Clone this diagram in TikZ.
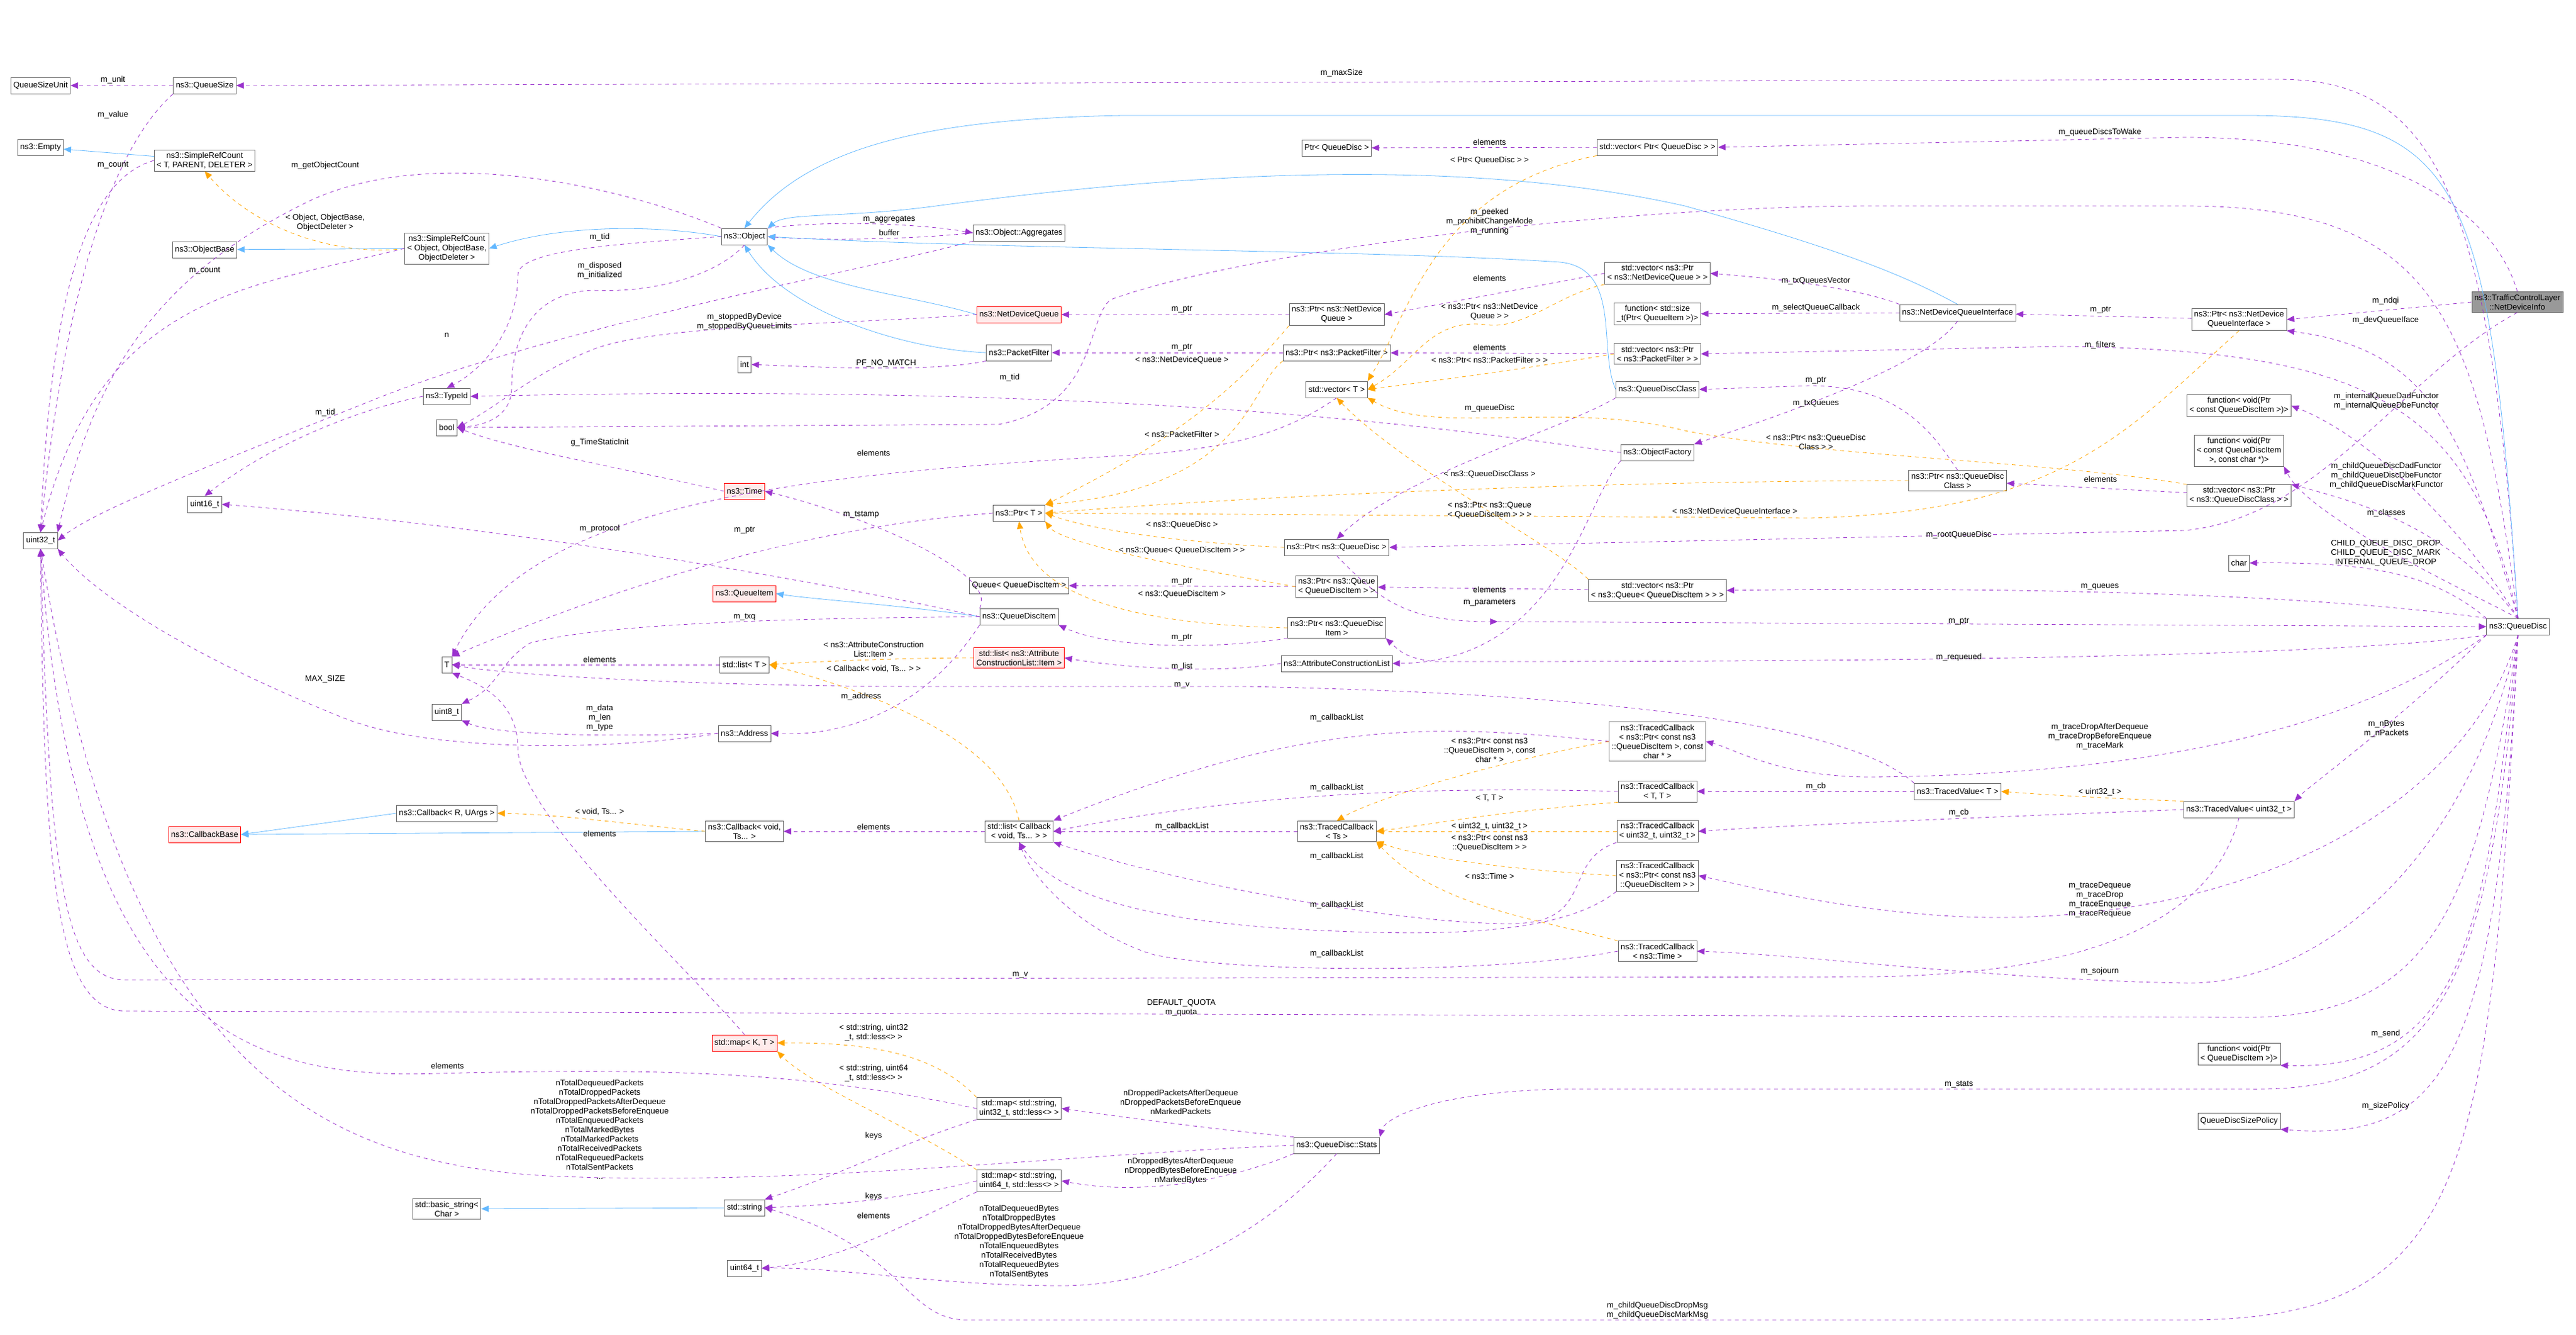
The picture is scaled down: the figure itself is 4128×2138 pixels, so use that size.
\documentclass[tikz,border=0pt]{standalone}
\usepackage{fontspec}
\setmainfont{Liberation Sans}
\usetikzlibrary{arrows.meta}
\definecolor{mpurple}{HTML}{9A32CD}
\definecolor{morange}{HTML}{FFA500}
\definecolor{mblue}{HTML}{63B8FF}
\begin{document}
\begin{tikzpicture}[x=0.5pt,y=-0.5pt,
  every node/.style={font=\fontsize{6.5}{7.5}\selectfont},
  box/.style={draw=black!60,fill=white,align=center,inner sep=2pt,minimum height=13pt},
  redbox/.style={box,draw=red,fill=red!8},
  lab/.style={align=center,inner sep=0pt},
  mem/.style={draw=mpurple,dashed,-{Triangle[length=6pt,width=5pt]}},
  tmpl/.style={draw=morange,dashed,-{Triangle[length=6pt,width=5pt]}},
  inh/.style={draw=mblue,-{Triangle[length=6pt,width=5pt]}}]
\useasboundingbox (0,0) rectangle (4128,2138);
% ---------- nodes ----------
\node[box] (qsu) at (65,137) {QueueSizeUnit};
\node[box] (qs) at (328,137) {ns3::QueueSize};
\node[box] (empty) at (65,236) {ns3::Empty};
\node[box] (srct) at (328,257) {ns3::SimpleRefCount\\< T, PARENT, DELETER >};
\node[box] (obase) at (328,400) {ns3::ObjectBase};
\node[box] (srco) at (716,398) {ns3::SimpleRefCount\\< Object, ObjectBase,\\ObjectDeleter >};
\node[box] (obj) at (1193,379) {ns3::Object};
\node[box] (agg) at (1633,373) {ns3::Object::Aggregates};
\node[box] (typeid) at (716,635) {ns3::TypeId};
\node[box] (boolN) at (716,685) {bool};
\node[box] (intN) at (1193,584) {int};
\node[redbox] (timeN) at (1193,787) {ns3::Time};
\node[box] (u16) at (328,808) {uint16\_t};
\node[box] (u32) at (65,866) {uint32\_t};
\node[redbox] (qitem) at (1193,951) {ns3::QueueItem};
\node[box] (tN) at (716,1065) {T};
\node[box] (listT) at (1193,1065) {std::list< T >};
\node[box] (u8) at (716,1141) {uint8\_t};
\node[box] (addr) at (1193,1175) {ns3::Address};
\node[box] (cbRU) at (716,1303) {ns3::Callback< R, UArgs >};
\node[redbox] (cbBase) at (328,1337) {ns3::CallbackBase};
\node[box] (cbVoid) at (1193,1332) {ns3::Callback< void,\\Ts... >};
\node[redbox] (mapKT) at (1193,1671) {std::map< K, T >};
\node[box] (bstr) at (716,1937) {std::basic\_string<\\Char >};
\node[box] (str) at (1193,1935) {std::string};
\node[box] (u64) at (1193,2032) {uint64\_t};
\node[box] (pqdT) at (2142,237) {Ptr< QueueDisc >};
\node[box] (vpqd) at (2656,236) {std::vector< Ptr< QueueDisc > >};
\node[redbox] (ndq) at (1633,504) {ns3::NetDeviceQueue};
\node[box] (pndq) at (2142,504) {ns3::Ptr< ns3::NetDevice\\Queue >};
\node[box] (vpndq) at (2656,438) {std::vector< ns3::Ptr\\< ns3::NetDeviceQueue > >};
\node[box] (fsize) at (2656,503) {function< std::size\\\_t(Ptr< QueueItem >)>};
\node[box] (pf) at (1633,565) {ns3::PacketFilter};
\node[box] (ppf) at (2142,565) {ns3::Ptr< ns3::PacketFilter >};
\node[box] (vppf) at (2656,567) {std::vector< ns3::Ptr\\< ns3::PacketFilter > >};
\node[box] (vecT) at (2142,624) {std::vector< T >};
\node[box] (qdc) at (2656,624) {ns3::QueueDiscClass};
\node[box] (ofac) at (2656,725) {ns3::ObjectFactory};
\node[box,fill=black!40] (ndi) at (4034,484) {ns3::TrafficControlLayer\\::NetDeviceInfo};
\node[box] (ndqi) at (3137,501) {ns3::NetDeviceQueueInterface};
\node[box] (pndqi) at (3588,512) {ns3::Ptr< ns3::NetDevice\\QueueInterface >};
\node[box] (fdad) at (3588,650) {function< void(Ptr\\< const QueueDiscItem >)>};
\node[box] (fchild) at (3588,722) {function< void(Ptr\\< const QueueDiscItem\\>, const char *)>};
\node[box] (pqdc) at (3137,770) {ns3::Ptr< ns3::QueueDisc\\Class >};
\node[box] (vpqdc) at (3588,794) {std::vector< ns3::Ptr\\< ns3::QueueDiscClass > >};
\node[box] (ptrT) at (1633,822) {ns3::Ptr< T >};
\node[box] (pqd) at (2142,877) {ns3::Ptr< ns3::QueueDisc >};
\node[box] (queueQDI) at (1633,938) {Queue< QueueDiscItem >};
\node[box] (pqueue) at (2142,940) {ns3::Ptr< ns3::Queue\\< QueueDiscItem > >};
\node[box] (vpqueue) at (2656,946) {std::vector< ns3::Ptr\\< ns3::Queue< QueueDiscItem > > >};
\node[box] (qdi) at (1633,988) {ns3::QueueDiscItem};
\node[box] (pqdi) at (2142,1006) {ns3::Ptr< ns3::QueueDisc\\Item >};
\node[redbox] (listACL) at (1633,1054) {std::list< ns3::Attribute\\ConstructionList::Item >};
\node[box] (acl) at (2142,1063) {ns3::AttributeConstructionList};
\node[box] (tcPtrChar) at (2656,1188) {ns3::TracedCallback\\< ns3::Ptr< const ns3\\::QueueDiscItem >, const\\char * >};
\node[box] (tcTT) at (2656,1268) {ns3::TracedCallback\\< T, T >};
\node[box] (listCb) at (1633,1332) {std::list< Callback\\< void, Ts... > >};
\node[box] (tcTs) at (2142,1332) {ns3::TracedCallback\\< Ts >};
\node[box] (tcU32) at (2656,1332) {ns3::TracedCallback\\< uint32\_t, uint32\_t >};
\node[box] (tcPtr) at (2656,1403) {ns3::TracedCallback\\< ns3::Ptr< const ns3\\::QueueDiscItem > >};
\node[box] (tcTime) at (2656,1524) {ns3::TracedCallback\\< ns3::Time >};
\node[box] (map32) at (1633,1776) {std::map< std::string,\\uint32\_t, std::less<> >};
\node[box] (map64) at (1633,1892) {std::map< std::string,\\uint64\_t, std::less<> >};
\node[box] (stats) at (2142,1835) {ns3::QueueDisc::Stats};
\node[box] (charN) at (3588,902) {char};
\node[box] (qd) at (4035,1004) {ns3::QueueDisc};
\node[box] (tvT) at (3137,1268) {ns3::TracedValue< T >};
\node[box] (tvU32) at (3588,1297) {ns3::TracedValue< uint32\_t >};
\node[box] (fsend) at (3588,1689) {function< void(Ptr\\< QueueDiscItem >)>};
\node[box] (qdsp) at (3588,1796) {QueueDiscSizePolicy};
% ---------- edges ----------
\draw[mem] (qs) -- (qsu);
\draw[mem] (qs.south west) .. controls (200,220) and (110,400) .. (u32.north);
\draw[mem] (qd.north) .. controls (3990,300) and (3900,127) .. (3650,127) -- (qs.east);
\draw[inh] (srct) -- (empty);
\draw[mem] (srct.west) .. controls (130,290) and (80,500) .. (u32.north);
\draw[tmpl] (srco.west) .. controls (560,410) and (420,380) .. (srct.south);
\draw[inh] (srco) -- (obase);
\draw[mem] (srco.west) .. controls (400,460) and (160,470) .. (u32.north);
\draw[inh] (obj.west) .. controls (1050,360) and (900,360) .. (srco.east);
\draw[mem] (obj.north west) .. controls (1000,300) and (700,230) .. (500,320) .. controls (250,440) and (150,600) .. (u32.north east);
\draw[mem] (obj.west) .. controls (1000,390) and (830,400) .. (830,440) .. controls (830,540) and (760,600) .. (typeid.north);
\draw[mem] (obj.south) .. controls (1150,440) and (1050,470) .. (950,465) .. controls (840,470) and (820,560) .. (820,620) .. controls (820,660) and (790,680) .. (boolN.east);
\draw[mem] (obj.north east) .. controls (1300,355) and (1450,355) .. (agg.west);
\draw[mem] (agg.west) .. controls (1450,385) and (1300,385) .. (obj.east);
\draw[mem] (agg.south west) .. controls (1400,430) and (900,520) .. (600,640) .. controls (300,760) and (150,820) .. (u32.east);
\draw[inh] (ndq.west) .. controls (1450,470) and (1300,460) .. (obj.south east);
\draw[mem] (ndq.west) .. controls (1350,520) and (1050,520) .. (950,560) .. controls (850,600) and (800,650) .. (boolN.east);
\draw[inh] (pf.west) .. controls (1450,560) and (1260,500) .. (obj.south);
\draw[mem] (pf.south west) .. controls (1500,595) and (1350,590) .. (intN.east);
\draw[inh] (qdc.west) .. controls (2560,560) and (2600,430) .. (2500,420) .. controls (2200,400) and (1600,400) .. (obj.east);
\draw[inh] (ndqi.north) .. controls (3050,440) and (2950,400) .. (2700,330) .. controls (2300,240) and (1800,290) .. (1500,330) .. controls (1350,350) and (1260,340) .. (obj.north east);
\draw[inh] (qd.north) .. controls (3990,300) and (3950,185) .. (3600,185) -- (1800,185) .. controls (1500,190) and (1300,230) .. (obj.north);
\draw[mem] (typeid.west) .. controls (600,650) and (450,700) .. (u16.north);
\draw[mem] (timeN.west) .. controls (1000,750) and (820,720) .. (boolN.east);
\draw[mem] (qd.north) .. controls (3970,500) and (3900,330) .. (3500,330) -- (3000,330) .. controls (2600,330) and (2000,400) .. (1780,480) .. controls (1740,510) and (1760,650) .. (1600,680) -- (boolN.east);
\draw[mem] (vpqd) -- (pqdT);
\draw[tmpl] (vpqd.south west) .. controls (2300,300) and (2260,500) .. (vecT.north east);
\draw[mem] (ndi.north) .. controls (4000,350) and (3850,220) .. (3500,220) -- (vpqd.east);
\draw[mem] (pndq) -- (ndq);
\draw[tmpl] (pndq.south west) .. controls (2000,600) and (1900,700) .. (ptrT.north east);
\draw[mem] (vpndq.west) -- (pndq.east);
\draw[tmpl] (vpndq.south west) .. controls (2500,470) and (2440,530) .. (2380,520) .. controls (2290,510) and (2270,580) .. (vecT.east);
\draw[mem] (ndqi.north west) .. controls (3000,470) and (2900,450) .. (vpndq.east);
\draw[mem] (ndqi) -- (fsize);
\draw[mem] (ndqi.south) .. controls (3090,580) and (2900,650) .. (ofac.north east);
\draw[mem] (ppf) -- (pf);
\draw[tmpl] (ppf.south west) .. controls (2000,620) and (2000,780) .. (ptrT.north east);
\draw[mem] (vppf) -- (ppf);
\draw[tmpl] (vppf.west) .. controls (2450,590) and (2300,610) .. (vecT.east);
\draw[mem] (qd.north) .. controls (3960,650) and (3800,560) .. (3300,555) -- (vppf.east);
\draw[mem] (vecT.south) .. controls (2080,680) and (2000,720) .. (1800,730) .. controls (1300,760) and (850,800) .. (tN.north east);
\draw[mem] (qdc.south west) .. controls (2500,690) and (2250,760) .. (pqd.north);
\draw[mem] (ofac.west) .. controls (2400,700) and (1900,610) .. (typeid.east);
\draw[mem] (ofac.south west) .. controls (2540,800) and (2500,1060) .. (acl.east);
\draw[mem] (pqdc.north) .. controls (3100,700) and (3050,618) .. (2900,618) -- (qdc.east);
\draw[tmpl] (pqdc.west) .. controls (2800,770) and (2200,780) .. (ptrT.east);
\draw[mem] (vpqdc) -- (pqdc);
\draw[tmpl] (vpqdc.north west) .. controls (3300,740) and (2900,730) .. (2700,690) .. controls (2500,640) and (2300,700) .. (vecT.south east);
\draw[mem] (qd.north) .. controls (3930,850) and (3800,810) .. (vpqdc.north east);
\draw[mem] (pndqi) -- (ndqi);
\draw[tmpl] (pndqi.south) .. controls (3400,700) and (3300,820) .. (2900,830) -- (ptrT.east);
\draw[mem] (ndi.west) -- (pndqi.east);
\draw[mem] (qd.north) .. controls (3950,700) and (3900,560) .. (pndqi.south east);
\draw[mem] (ndi.south) .. controls (3850,600) and (3720,830) .. (3500,850) -- (pqd.east);
\draw[mem] (qd.north) .. controls (3950,850) and (3800,700) .. (fdad.east);
\draw[mem] (qd.north) .. controls (3960,950) and (3700,830) .. (fchild.south east);
\draw[mem] (qd.north west) .. controls (3900,920) and (3800,900) .. (charN.east);
\draw[mem] (qd.north west) .. controls (3700,950) and (3200,940) .. (vpqueue.east);
\draw[mem] (2400,996) -- (qd.west);
\draw[mem] (pqd.south) .. controls (2210,960) and (2250,996) .. (2400,996);
\draw[tmpl] (pqd.west) .. controls (1900,870) and (1750,850) .. (ptrT.east);
\draw[mem] (qd.south west) .. controls (3700,1060) and (2700,1060) .. (2300,1060) .. controls (2250,1055) and (2240,1040) .. (pqdi.south east);
\draw[mem] (pqueue) -- (queueQDI);
\draw[tmpl] (pqueue.west) .. controls (1900,910) and (1700,870) .. (ptrT.south east);
\draw[mem] (vpqueue) -- (pqueue);
\draw[tmpl] (vpqueue.north west) .. controls (2500,880) and (2250,750) .. (vecT.south);
\draw[mem] (pqdi.south west) .. controls (1950,1040) and (1780,1040) .. (qdi.south east);
\draw[tmpl] (pqdi.west) .. controls (1800,1000) and (1650,950) .. (ptrT.south);
\draw[inh] (qdi.west) .. controls (1450,970) and (1300,960) .. (qitem.east);
\draw[mem] (qdi.west) .. controls (1450,960) and (900,850) .. (u16.east);
\draw[mem] (qdi.north west) .. controls (1600,920) and (1400,830) .. (timeN.east);
\draw[mem] (qdi.west) .. controls (1450,990) and (1000,990) .. (850,1030) .. controls (800,1060) and (800,1100) .. (u8.north east);
\draw[mem] (qdi.south west) .. controls (1480,1140) and (1350,1180) .. (addr.east);
\draw[mem] (ptrT.west) .. controls (1500,830) and (1200,850) .. (tN.north east);
\draw[mem] (acl.west) .. controls (1950,1080) and (1800,1070) .. (listACL.east);
\draw[tmpl] (listACL.west) .. controls (1450,1054) and (1300,1060) .. (listT.east);
\draw[mem] (listT) -- (tN);
\draw[mem] (tvT.north west) .. controls (2950,1150) and (2500,1110) .. (2000,1100) -- (1500,1100) .. controls (1100,1100) and (800,1080) .. (tN.east);
\draw[mem] (addr.west) .. controls (1000,1180) and (800,1180) .. (u8.south east);
\draw[mem] (addr.west) .. controls (1000,1200) and (700,1210) .. (550,1150) .. controls (300,1050) and (150,950) .. (u32.south east);
\draw[inh] (cbRU.west) -- (cbBase.east);
\draw[inh] (cbVoid.west) -- (cbBase.east);
\draw[tmpl] (cbVoid.west) .. controls (1000,1320) and (900,1305) .. (cbRU.east);
\draw[mem] (listCb) -- (cbVoid);
\draw[tmpl] (listCb.north) .. controls (1620,1250) and (1550,1150) .. (listT.east);
\draw[mem] (tcTs) -- (listCb);
\draw[mem] (tcPtrChar.west) .. controls (2300,1160) and (2100,1150) .. (listCb.north east);
\draw[tmpl] (tcPtrChar.west) .. controls (2400,1220) and (2200,1280) .. (tcTs.north);
\draw[mem] (tcTT.west) .. controls (2300,1260) and (2000,1270) .. (listCb.east);
\draw[tmpl] (tcTT.south west) .. controls (2400,1300) and (2300,1320) .. (tcTs.east);
\draw[tmpl] (tcU32) -- (tcTs);
\draw[mem] (tcU32.south west) .. controls (2500,1380) and (2560,1480) .. (2420,1480) .. controls (2250,1480) and (1900,1420) .. (listCb.south east);
\draw[tmpl] (tcPtr.west) .. controls (2450,1395) and (2300,1380) .. (tcTs.south east);
\draw[mem] (tcPtr.south west) .. controls (2500,1500) and (2300,1500) .. (2100,1490) .. controls (1900,1480) and (1700,1450) .. (listCb.south);
\draw[tmpl] (tcTime.north west) .. controls (2450,1470) and (2300,1450) .. (tcTs.south east);
\draw[mem] (tcTime.west) .. controls (2400,1560) and (2000,1560) .. (1850,1530) .. controls (1750,1500) and (1660,1420) .. (listCb.south);
\draw[mem] (qd.south west) .. controls (3800,1150) and (3500,1240) .. (3000,1245) .. controls (2850,1245) and (2780,1200) .. (tcPtrChar.east);
\draw[mem] (tvT) -- (tcTT);
\draw[mem] (tvU32.west) .. controls (3300,1305) and (2900,1320) .. (tcU32.east);
\draw[tmpl] (tvU32.north west) .. controls (3400,1280) and (3300,1275) .. (tvT.east);
\draw[mem] (qd.south west) .. controls (3850,1150) and (3700,1260) .. (tvU32.north east);
\draw[mem] (qd.south) .. controls (3950,1300) and (3600,1470) .. (3200,1470) .. controls (3000,1470) and (2800,1420) .. (tcPtr.east);
\draw[mem] (qd.south) .. controls (3950,1400) and (3700,1580) .. (3500,1575) .. controls (3200,1570) and (2900,1530) .. (tcTime.east);
\draw[mem] (tvU32.south) .. controls (3550,1450) and (3400,1560) .. (3000,1565) -- (200,1570) .. controls (100,1570) and (80,1400) .. (u32.south);
\draw[mem] (qd.south) .. controls (3970,1450) and (3900,1630) .. (3600,1630) -- (200,1620) .. controls (90,1620) and (70,1400) .. (u32.south);
\draw[mem] (qd.south) .. controls (3980,1500) and (3950,1715) .. (fsend.south east);
\draw[mem] (qd.south) .. controls (3990,1600) and (3900,1750) .. (3600,1745) -- (2500,1745) .. controls (2300,1750) and (2220,1790) .. (stats.north east);
\draw[mem] (qd.south) .. controls (4000,1700) and (3920,1830) .. (qdsp.south east);
\draw[mem] (qd.south) .. controls (3990,1900) and (3950,2115) .. (3500,2115) -- (1550,2115) .. controls (1450,2115) and (1450,2000) .. (str.east);
\draw[mem] (stats.north west) .. controls (1950,1810) and (1800,1790) .. (map32.east);
\draw[mem] (stats.south west) .. controls (2000,1880) and (1850,1920) .. (map64.east);
\draw[mem] (stats.west) .. controls (1700,1850) and (1300,1900) .. (900,1885) .. controls (500,1870) and (200,1700) .. (u32.south);
\draw[mem] (stats.south) .. controls (2050,1950) and (1900,2060) .. (1700,2060) .. controls (1500,2060) and (1350,2030) .. (u64.east);
\draw[tmpl] (map32.north west) .. controls (1500,1690) and (1400,1670) .. (mapKT.east);
\draw[tmpl] (map64.north west) .. controls (1450,1800) and (1300,1740) .. (mapKT.south east);
\draw[mem] (map32.south west) .. controls (1450,1830) and (1350,1880) .. (str.north east);
\draw[mem] (map32.west) .. controls (1300,1720) and (1100,1710) .. (700,1720) .. controls (400,1730) and (120,1650) .. (u32.south);
\draw[mem] (map64.west) .. controls (1450,1920) and (1350,1930) .. (str.east);
\draw[mem] (map64.south west) .. controls (1450,1960) and (1350,2020) .. (u64.east);
\draw[inh] (str) -- (bstr);
\draw[mem] (mapKT.north) .. controls (1100,1550) and (830,1300) .. (830,1200) .. controls (830,1130) and (780,1100) .. (tN.south east);
% ---------- labels ----------
\node[lab] (l1) at (181,128) {m\_unit};
\node[lab] (l2) at (181,184) {m\_value};
\node[lab] (l3) at (2150,117) {m\_maxSize};
\node[lab] (l4) at (181,265) {m\_count};
\node[lab] (l5) at (521,357) {< Object, ObjectBase,\\ObjectDeleter >};
\node[lab] (l6) at (328,434) {m\_count};
\node[lab] (l7) at (521,265) {m\_getObjectCount};
\node[lab] (l8) at (961,380) {m\_tid};
\node[lab] (l9) at (961,434) {m\_disposed\\m\_initialized};
\node[lab] (l10) at (1425,352) {m\_aggregates};
\node[lab] (l11) at (1425,373) {buffer};
\node[lab] (l12) at (716,537) {n};
\node[lab] (l13) at (1193,516) {m\_stoppedByDevice\\m\_stoppedByQueueLimits};
\node[lab] (l14) at (1420,582) {PF\_NO\_MATCH};
\node[lab] (l15) at (521,661) {m\_tid};
\node[lab] (l16) at (961,709) {g\_TimeStaticInit};
\node[lab] (l17) at (2387,355) {m\_peeked\\m\_prohibitChangeMode\\m\_running};
\node[lab] (l18) at (2387,228) {elements};
\node[lab] (l19) at (2387,257) {< Ptr< QueueDisc > >};
\node[lab] (l20) at (3365,212) {m\_queueDiscsToWake};
\node[lab] (l21) at (1894,496) {m\_ptr};
\node[lab] (l22) at (1894,557) {m\_ptr};
\node[lab] (l23) at (1894,577) {< ns3::NetDeviceQueue >};
\node[lab] (l24) at (2387,446) {elements};
\node[lab] (l25) at (2387,500) {< ns3::Ptr< ns3::NetDevice\\Queue > >};
\node[lab] (l26) at (2387,557) {elements};
\node[lab] (l27) at (2387,577) {< ns3::Ptr< ns3::PacketFilter > >};
\node[lab] (l28) at (1618,605) {m\_tid};
\node[lab] (l29) at (2387,654) {m\_queueDisc};
\node[lab] (l30) at (1894,696) {< ns3::PacketFilter >};
\node[lab] (l31) at (1400,726) {elements};
\node[lab] (l32) at (2387,760) {< ns3::QueueDiscClass >};
\node[lab] (l33) at (2910,450) {m\_txQueuesVector};
\node[lab] (l34) at (2910,493) {m\_selectQueueCallback};
\node[lab] (l35) at (3366,497) {m\_ptr};
\node[lab] (l36) at (3823,482) {m\_ndqi};
\node[lab] (l37) at (3823,513) {m\_devQueueIface};
\node[lab] (l38) at (3365,553) {m\_filters};
\node[lab] (l39) at (2910,610) {m\_ptr};
\node[lab] (l40) at (2910,646) {m\_txQueues};
\node[lab] (l41) at (2910,708) {< ns3::Ptr< ns3::QueueDisc\\Class > >};
\node[lab] (l42) at (3824,643) {m\_internalQueueDadFunctor\\m\_internalQueueDbeFunctor};
\node[lab] (l43) at (3824,762) {m\_childQueueDiscDadFunctor\\m\_childQueueDiscDbeFunctor\\m\_childQueueDiscMarkFunctor};
\node[lab] (l44) at (3366,768) {elements};
\node[lab] (l45) at (2387,818) {< ns3::Ptr< ns3::Queue\\< QueueDiscItem > > >};
\node[lab] (l46) at (2780,820) {< ns3::NetDeviceQueueInterface >};
\node[lab] (l47) at (1894,841) {< ns3::QueueDisc >};
\node[lab] (l48) at (1894,882) {< ns3::Queue< QueueDiscItem > >};
\node[lab] (l49) at (1894,932) {m\_ptr};
\node[lab] (l50) at (1894,952) {< ns3::QueueDiscItem >};
\node[lab] (l51) at (2387,945) {elements};
\node[lab] (l52) at (2387,966) {m\_parameters};
\node[lab] (l53) at (1894,1022) {m\_ptr};
\node[lab] (l54) at (1894,1068) {m\_list};
\node[lab] (l55) at (1894,1098) {m\_v};
\node[lab] (l56) at (2142,1150) {m\_callbackList};
\node[lab] (l57) at (2387,1202) {< ns3::Ptr< const ns3\\::QueueDiscItem >, const\\char * >};
\node[lab] (l58) at (2142,1262) {m\_callbackList};
\node[lab] (l59) at (2387,1279) {< T, T >};
\node[lab] (l60) at (1894,1324) {m\_callbackList};
\node[lab] (l61) at (2387,1324) {< uint32\_t, uint32\_t >};
\node[lab] (l62) at (2387,1351) {< ns3::Ptr< const ns3\\::QueueDiscItem > >};
\node[lab] (l63) at (2142,1372) {m\_callbackList};
\node[lab] (l64) at (2387,1404) {< ns3::Time >};
\node[lab] (l65) at (2142,1450) {m\_callbackList};
\node[lab] (l66) at (961,847) {m\_protocol};
\node[lab] (l67) at (1193,850) {m\_ptr};
\node[lab] (l68) at (1193,989) {m\_txq};
\node[lab] (l69) at (1400,1040) {< ns3::AttributeConstruction\\List::Item >};
\node[lab] (l70) at (961,1057) {elements};
\node[lab] (l71) at (1400,1072) {< Callback< void, Ts... > >};
\node[lab] (l72) at (1380,1116) {m\_address};
\node[lab] (l73) at (521,1088) {MAX\_SIZE};
\node[lab] (l74) at (961,1150) {m\_data\\m\_len\\m\_type};
\node[lab] (l75) at (961,1301) {< void, Ts... >};
\node[lab] (l76) at (961,1336) {elements};
\node[lab] (l77) at (1400,1325) {elements};
\node[lab] (l78) at (1380,825) {m\_tstamp};
\node[lab] (l79) at (717,1708) {elements};
\node[lab] (l80) at (961,1810) {nTotalDequeuedPackets\\nTotalDroppedPackets\\nTotalDroppedPacketsAfterDequeue\\nTotalDroppedPacketsBeforeEnqueue\\nTotalEnqueuedPackets\\nTotalMarkedBytes\\nTotalMarkedPackets\\nTotalReceivedPackets\\nTotalRequeuedPackets\\nTotalSentPackets\\...};
\node[lab] (l81) at (2142,1528) {m\_callbackList};
\node[lab] (l82) at (1635,1562) {m\_v};
\node[lab] (l83) at (1893,1615) {DEFAULT\_QUOTA\\m\_quota};
\node[lab] (l84) at (1400,1655) {< std::string, uint32\\\_t, std::less<> >};
\node[lab] (l85) at (1400,1720) {< std::string, uint64\\\_t, std::less<> >};
\node[lab] (l86) at (1400,1820) {keys};
\node[lab] (l87) at (1892,1766) {nDroppedPacketsAfterDequeue\\nDroppedPacketsBeforeEnqueue\\nMarkedPackets};
\node[lab] (l88) at (1892,1876) {nDroppedBytesAfterDequeue\\nDroppedBytesBeforeEnqueue\\nMarkedBytes};
\node[lab] (l89) at (1400,1917) {keys};
\node[lab] (l90) at (1400,1948) {elements};
\node[lab] (l91) at (1633,1990) {nTotalDequeuedBytes\\nTotalDroppedBytes\\nTotalDroppedBytesAfterDequeue\\nTotalDroppedBytesBeforeEnqueue\\nTotalEnqueuedBytes\\nTotalReceivedBytes\\nTotalRequeuedBytes\\nTotalSentBytes};
\node[lab] (l92) at (2656,2100) {m\_childQueueDiscDropMsg\\m\_childQueueDiscMarkMsg};
\node[lab] (l93) at (3824,822) {m\_classes};
\node[lab] (l94) at (3823,886) {CHILD\_QUEUE\_DISC\_DROP\\CHILD\_QUEUE\_DISC\_MARK\\INTERNAL\_QUEUE\_DROP};
\node[lab] (l95) at (3139,857) {m\_rootQueueDisc};
\node[lab] (l96) at (3365,940) {m\_queues};
\node[lab] (l97) at (3139,996) {m\_ptr};
\node[lab] (l98) at (3139,1053) {m\_requeued};
\node[lab] (l99) at (3365,1180) {m\_traceDropAfterDequeue\\m\_traceDropBeforeEnqueue\\m\_traceMark};
\node[lab] (l100) at (3824,1168) {m\_nBytes\\m\_nPackets};
\node[lab] (l101) at (2910,1260) {m\_cb};
\node[lab] (l102) at (3365,1269) {< uint32\_t >};
\node[lab] (l103) at (3139,1302) {m\_cb};
\node[lab] (l104) at (3365,1442) {m\_traceDequeue\\m\_traceDrop\\m\_traceEnqueue\\m\_traceRequeue};
\node[lab] (l105) at (3365,1556) {m\_sojourn};
\node[lab] (l106) at (3823,1656) {m\_send};
\node[lab] (l107) at (3139,1738) {m\_stats};
\node[lab] (l108) at (3823,1772) {m\_sizePolicy};
\end{tikzpicture}
\end{document}
